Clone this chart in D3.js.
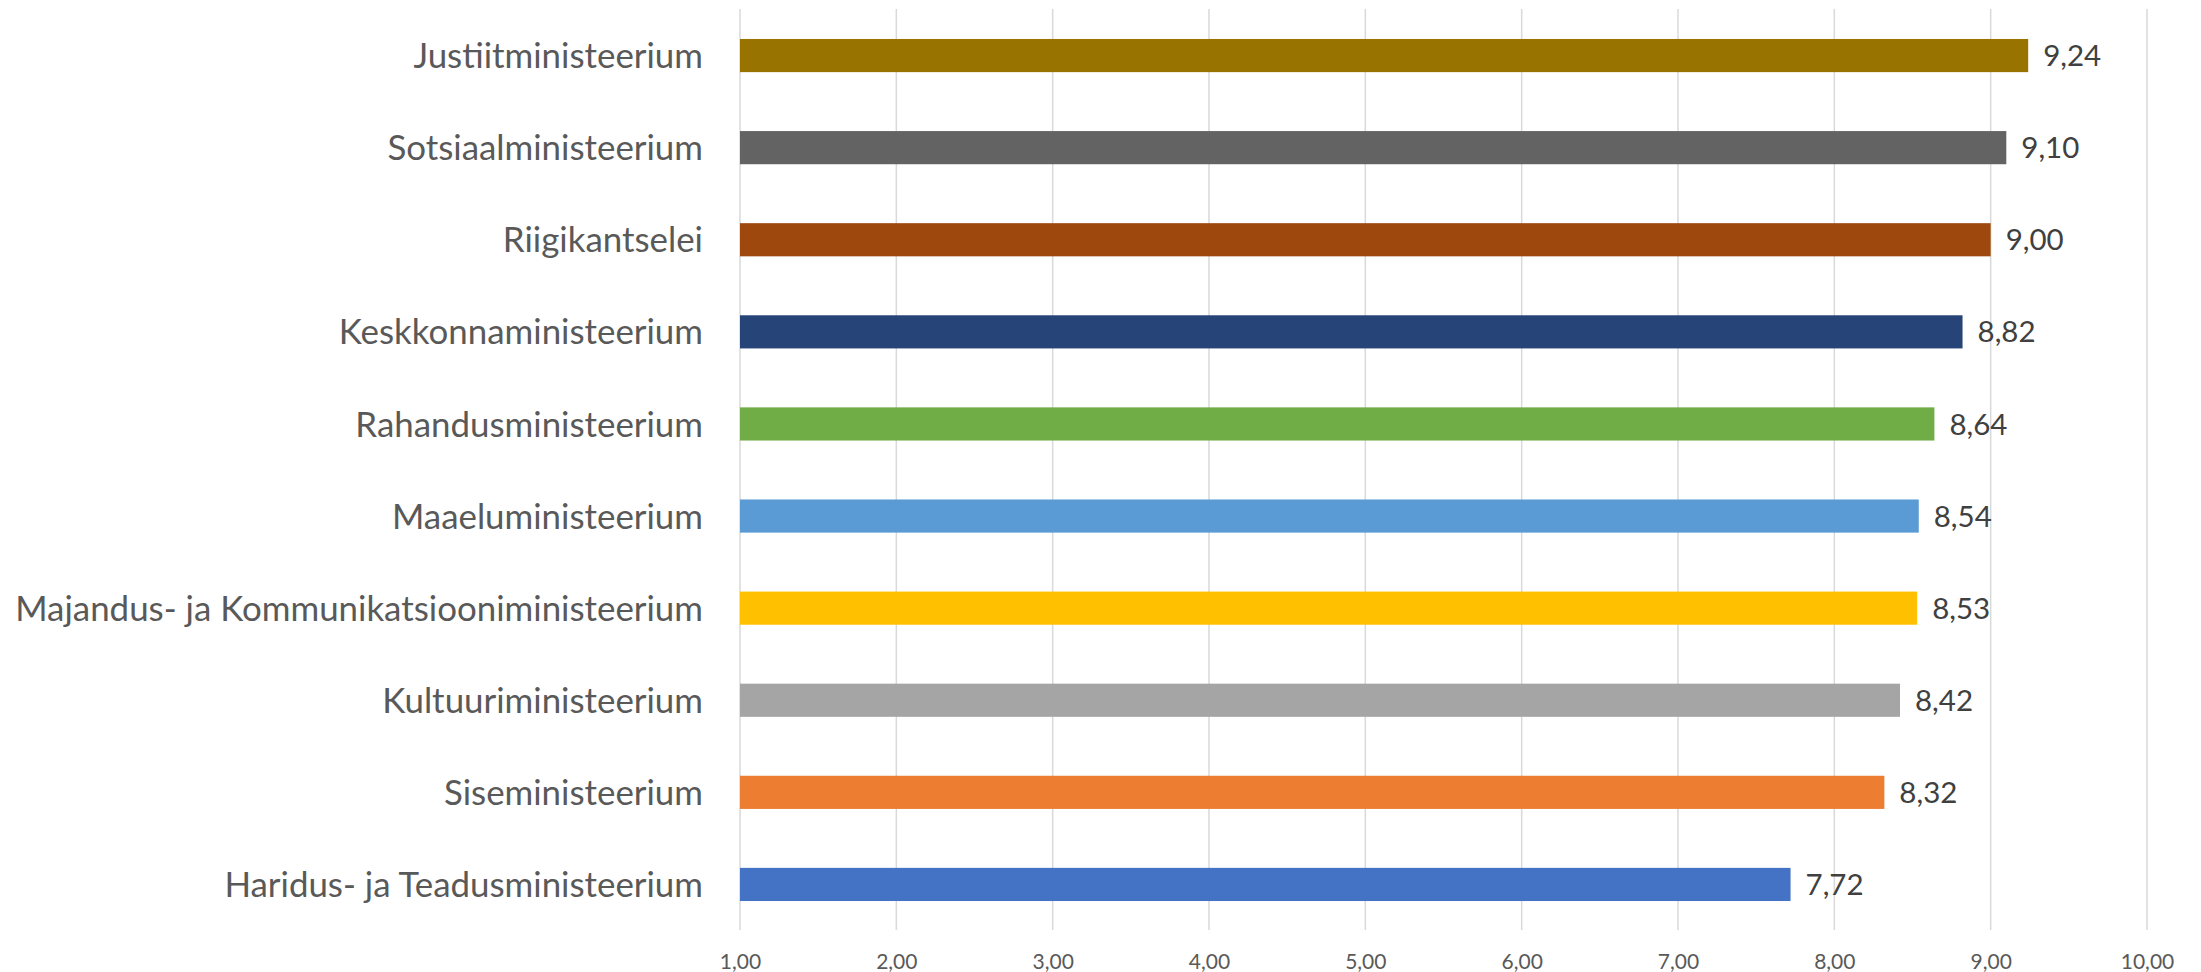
<!DOCTYPE html>
<html>
<head>
<meta charset="utf-8">
<script src="https://cdn.jsdelivr.net/npm/d3@7"></script>
<style>
  html, body { margin: 0; padding: 0; background: #ffffff; }
  svg { display: block; }
  text { font-family: Lato, "Open Sans", "DejaVu Sans", sans-serif; }
</style>
</head>
<body>
<svg id="chart" width="2201" height="972"></svg>
<script>
// ---- data (top to bottom as displayed) ----
const categories = [
  "Justiitministeerium",
  "Sotsiaalministeerium",
  "Riigikantselei",
  "Keskkonnaministeerium",
  "Rahandusministeerium",
  "Maaeluministeerium",
  "Majandus- ja Kommunikatsiooniministeerium",
  "Kultuuriministeerium",
  "Siseministeerium",
  "Haridus- ja Teadusministeerium"
];
const values = [9.24, 9.10, 9.00, 8.82, 8.64, 8.54, 8.53, 8.42, 8.32, 7.72];
const barColors = [
  "#997300", "#636363", "#9E480E", "#264478", "#70AD47",
  "#5B9BD5", "#FFC000", "#A5A5A5", "#ED7D31", "#4472C4"
];
const tickValues = [1, 2, 3, 4, 5, 6, 7, 8, 9, 10];
const xDomain = [1, 10];

// ---- layout ----
const svg = d3.select("#chart");
const plotLeft = 740, plotRight = 2147, plotTop = 9.5, plotBottom = 930.5;

const x = d3.scaleLinear().domain(xDomain).range([plotLeft, plotRight]);
const y = d3.scaleBand().domain(categories).range([plotTop, plotBottom])
  .paddingInner(0.64).paddingOuter(0.32);

const fmt = v => d3.format(".2f")(v).replace(".", ",");

// gridlines
svg.append("g").selectAll("line").data(tickValues).join("line")
  .attr("x1", d => x(d)).attr("x2", d => x(d))
  .attr("y1", plotTop - 0.5).attr("y2", plotBottom - 0.5)
  .attr("stroke", "#D9D9D9").attr("stroke-width", 1.5);

// x-axis tick labels via d3 axis
const xAxis = d3.axisBottom(x).tickValues(tickValues).tickFormat(fmt).tickSize(0).tickPadding(0);
const gx = svg.append("g").call(xAxis);
gx.select(".domain").remove();
gx.selectAll("text")
  .attr("y", 969).attr("dy", null)
  .attr("fill", "#595959")
  .style("font-size", "21px")
  .style("font-family", "Lato, 'Open Sans', sans-serif");

// bars
svg.append("g").selectAll("rect").data(categories).join("rect")
  .attr("x", x(xDomain[0]))
  .attr("y", d => y(d))
  .attr("width", (d, i) => x(values[i]) - x(xDomain[0]))
  .attr("height", y.bandwidth())
  .attr("fill", (d, i) => barColors[i]);

// value labels
const valFont = 29.5;
svg.append("g").selectAll("text").data(categories).join("text")
  .attr("x", (d, i) => x(values[i]) + 15)
  .attr("y", d => y(d) + y.bandwidth() / 2 + valFont * 0.36)
  .attr("fill", "#404040")
  .style("font-size", valFont + "px")
  .text((d, i) => fmt(values[i]));

// category labels
const catG = svg.append("g");
let catFont = 33;
const catTexts = catG.selectAll("text").data(categories).join("text")
  .attr("x", 703)
  .attr("text-anchor", "end")
  .attr("fill", "#595959")
  .style("font-size", catFont + "px")
  .text(d => d);
// fit longest label to reference width (~688px)
let maxW = 0;
catTexts.each(function() { maxW = Math.max(maxW, this.getComputedTextLength()); });
if (maxW > 0) catFont = catFont * 688 / maxW;
catTexts.style("font-size", catFont + "px")
  .attr("y", d => y(d) + y.bandwidth() / 2 + catFont * 0.36);
</script>
</body>
</html>
